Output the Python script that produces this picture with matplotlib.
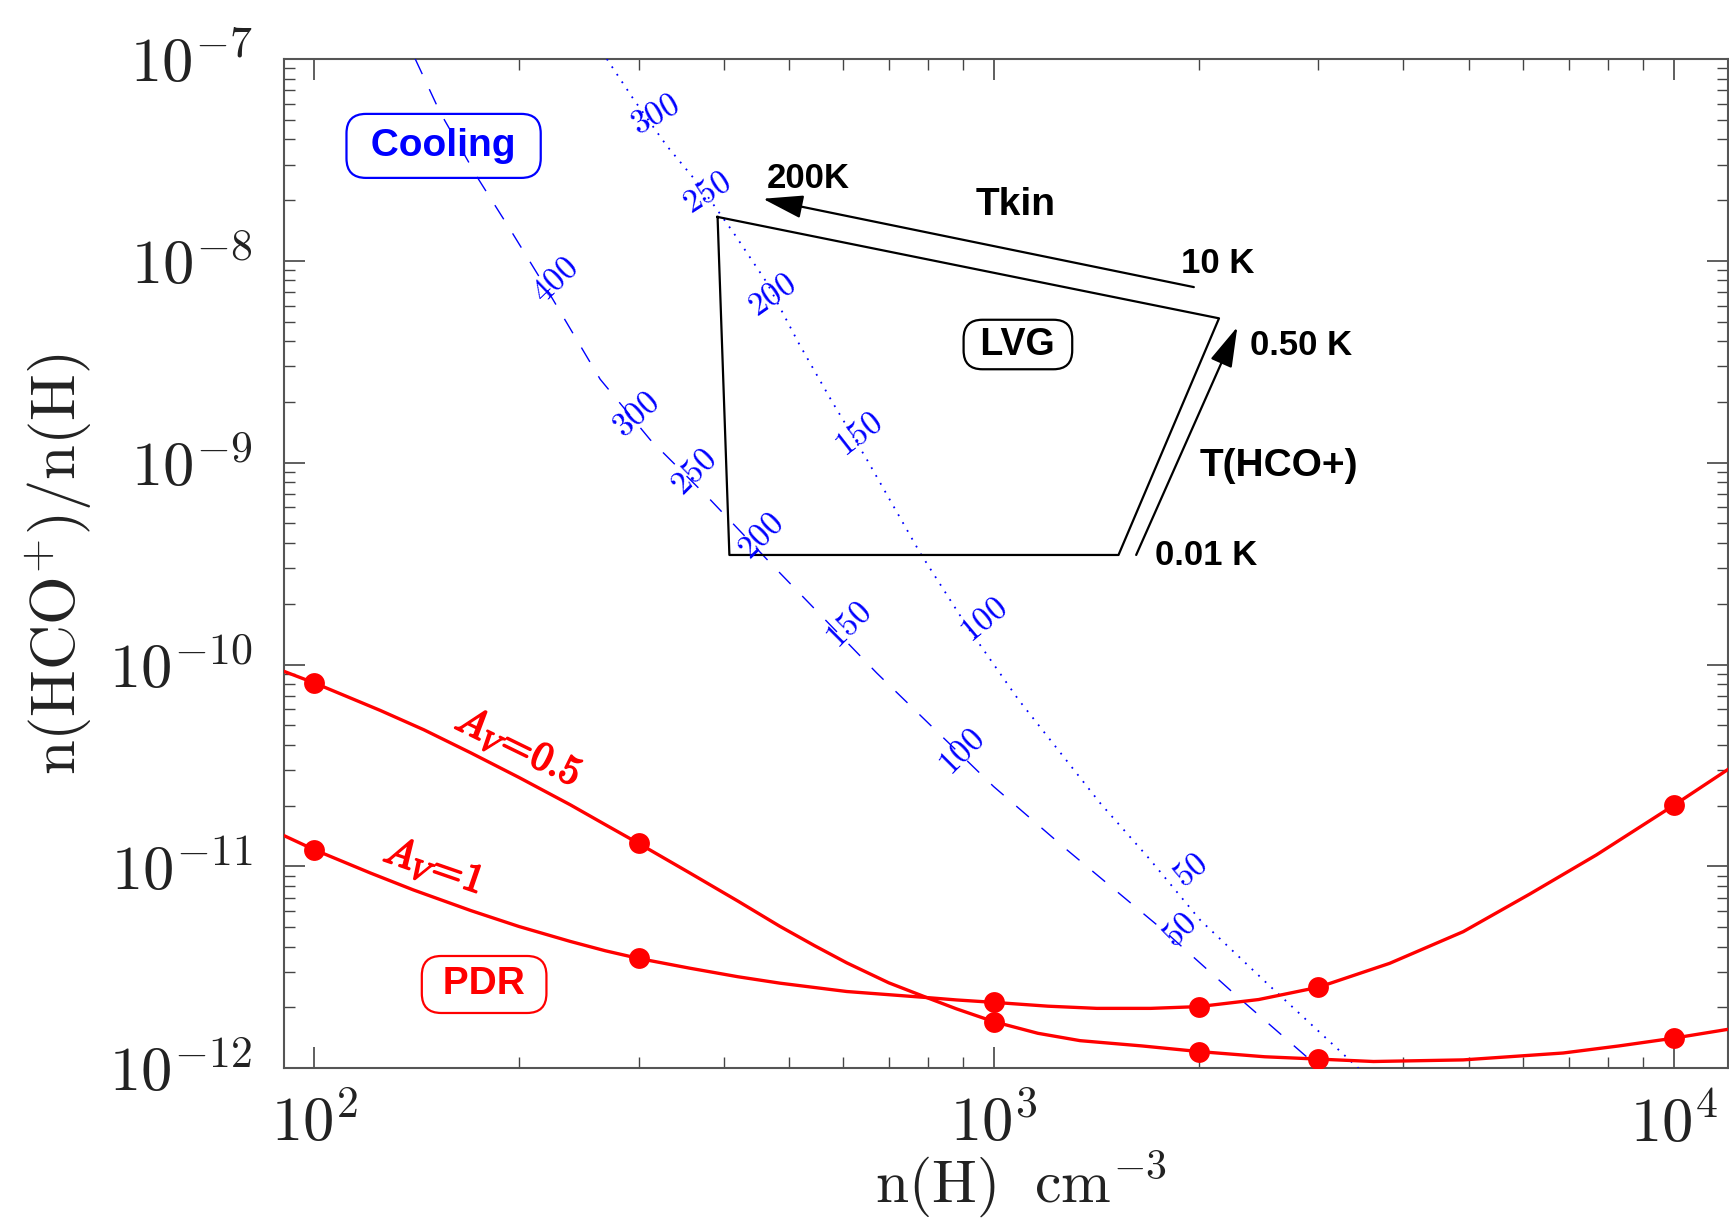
import numpy as np
import matplotlib
matplotlib.use("Agg")
import matplotlib.pyplot as plt
import matplotlib.patheffects as pe
from matplotlib.ticker import LogLocator, FixedLocator, FuncFormatter, NullFormatter

# ==================================================
# DATA
# ==================================================

# PDR model points, n(H) in cm^-3
nh_dots = [100, 300, 1000, 2000, 3000, 10000]
av05_dots = [8.1e-11, 1.3e-11, 1.7e-12, 1.21e-12, 1.11e-12, 1.41e-12]
av1_dots = [1.21e-11, 3.5e-12, 2.12e-12, 2.02e-12, 2.52e-12, 2.01e-11]

# smooth PDR curves, sampled along the drawn line
av05_curve_nh = [90.3, 100, 125, 145, 170, 200, 238, 268, 300, 357, 420,
                 484, 545, 607, 700, 796, 880, 1000, 1160, 1338, 1650,
                 2000, 2500, 3000, 3614, 4898, 6871, 8300, 10000, 12020]
av05_curve = [9.25e-11, 8.11e-11, 5.93e-11, 4.75e-11, 3.65e-11, 2.76e-11,
              2.02e-11, 1.61e-11, 1.3e-11, 9.27e-12, 6.73e-12, 5.05e-12,
              4.04e-12, 3.33e-12, 2.65e-12, 2.24e-12, 1.97e-12, 1.7e-12,
              1.49e-12, 1.37e-12, 1.29e-12, 1.21e-12, 1.14e-12, 1.11e-12,
              1.08e-12, 1.10e-12, 1.19e-12, 1.29e-12, 1.41e-12, 1.56e-12]

av1_curve_nh = [90.3, 100, 121, 140, 170, 200, 238, 268, 300, 357, 420,
                484, 607, 796, 880, 1000, 1200, 1416, 1700, 2000, 2450,
                3000, 3818, 4898, 6138, 7690, 10000, 12020]
av1_curve = [1.42e-11, 1.21e-11, 9.27e-12, 7.64e-12, 6.04e-12, 5.04e-12,
             4.25e-12, 3.82e-12, 3.5e-12, 3.13e-12, 2.84e-12, 2.64e-12,
             2.40e-12, 2.24e-12, 2.18e-12, 2.12e-12, 2.03e-12, 1.98e-12,
             1.98e-12, 2.02e-12, 2.19e-12, 2.52e-12, 3.31e-12, 4.75e-12,
             7.3e-12, 1.14e-11, 2.01e-11, 3.03e-11]

# cooling curves (blue), dashed and dotted
dash_nh = [140.8, 153.2, 174.4, 194.2, 219.9, 263.4, 312, 382.2, 479,
           672, 998, 1279, 1795, 2249, 3013]
dash_y = [1e-7, 5.43e-8, 2.54e-8, 1.43e-8, 7.23e-9, 2.59e-9, 1.30e-9,
          6.57e-10, 2.95e-10, 9.08e-11, 2.49e-11, 1.21e-11, 4.67e-12,
          2.36e-12, 1e-12]

dot_nh = [269.4, 294.9, 330.1, 369.5, 413.6, 463.2, 515.5, 577, 649.6,
          778.5, 911.9, 1086, 1432, 1696, 2009, 2518, 3435]
dot_y = [1e-7, 6.32e-8, 3.71e-8, 2.35e-8, 1.38e-8, 7.80e-9, 3.93e-9,
         2.02e-9, 1.04e-9, 3.57e-10, 1.55e-10, 6.70e-11, 2.06e-11,
         1.08e-11, 5.43e-12, 2.64e-12, 1e-12]

# temperature labels along the blue curves
dash_labels = ["400", "300", "250", "200", "150", "100", "50"]
dash_lab_nh = [226.1, 297.6, 361.3, 452.8, 610.6, 896.4, 1877]
dash_lab_y = [8.09e-9, 1.73e-9, 9.08e-10, 4.33e-10, 1.58e-10, 3.71e-11, 4.85e-12]
dash_lab_rot = [44, 42, 45, 45, 45, 45, 45]

dot_labels = ["300", "250", "200", "150", "100", "50"]
dot_lab_nh = [317.3, 378.0, 471.1, 631.6, 964.5, 1942]
dot_lab_y = [5.33e-8, 2.18e-8, 6.83e-9, 1.38e-9, 1.67e-10, 9.62e-12]
dot_lab_rot = [30, 33, 35, 38, 40, 40]

# LVG region
lvg_nh = [392, 408, 1524, 2142, 392]
lvg_y = [1.65e-8, 3.49e-10, 3.49e-10, 5.19e-9, 1.65e-8]

# arrows: (tail, head)
tkin_arrow = [(1967, 7.41e-9), (457, 2.03e-8)]
thco_arrow = [(1618, 3.49e-10), (2279, 4.70e-9)]

x_ticks = [1e2, 1e3, 1e4]
y_ticks = [1e-12, 1e-11, 1e-10, 1e-9, 1e-8, 1e-7]

# ==================================================
# STYLE
# ==================================================

plt.rcParams["mathtext.fontset"] = "cm"
plt.rcParams["font.family"] = ["DejaVu Sans"]

RED = "#ff0000"
BLUE = "#0000ff"
TXT = "#222222"
BOLD = dict(family=["Liberation Sans"], weight="bold")

fig = plt.figure(figsize=(17.29, 12.21), dpi=100)
ax = fig.add_axes([0.1643, 0.1251, 0.8353, 0.8266])

ax.set_xscale("log")
ax.set_yscale("log")
ax.set_xlim(90.3, 12020)
ax.set_ylim(1e-12, 1e-7)

# ==================================================
# CURVES
# ==================================================

ax.plot(av05_curve_nh, av05_curve, color=RED, lw=2.4, zorder=4)
ax.plot(av1_curve_nh, av1_curve, color=RED, lw=2.4, zorder=4)
ax.plot(nh_dots, av05_dots, "o", color=RED, ms=15, mec="none", zorder=5)
ax.plot(nh_dots, av1_dots, "o", color=RED, ms=15, mec="none", zorder=5)

ax.plot(dash_nh, dash_y, color=BLUE, lw=1.0, dashes=(12, 12), zorder=3)
ax.plot(dot_nh, dot_y, color=BLUE, lw=1.3, dashes=(1.0, 4.0), zorder=3)

for t, x, y, r in zip(dash_labels, dash_lab_nh, dash_lab_y, dash_lab_rot):
    ax.text(x, y, "$%s$" % t, color=BLUE, fontsize=24, rotation=r,
            ha="center", va="center", rotation_mode="anchor", zorder=6)

for t, x, y, r in zip(dot_labels, dot_lab_nh, dot_lab_y, dot_lab_rot):
    ax.text(x, y, "$%s$" % t, color=BLUE, fontsize=24, rotation=r,
            ha="center", va="center", rotation_mode="anchor", zorder=6)

# ==================================================
# LVG BOX AND ARROWS
# ==================================================

ax.plot(lvg_nh, lvg_y, color="black", lw=1.6, zorder=4)

for tail, head in [tkin_arrow, thco_arrow]:
    ax.annotate("", xy=head, xytext=tail,
                arrowprops=dict(arrowstyle="-|>,head_length=1.25,head_width=0.36",
                                mutation_scale=20, color="black", lw=1.6,
                                shrinkA=0, shrinkB=0))

ax.text(533, 2.55e-8, "200K", fontsize=25, ha="center", va="center", **BOLD)
ax.text(1076, 1.90e-8, "Tkin", fontsize=28, ha="center", va="center", **BOLD)
ax.text(2131, 9.65e-9, "10 K", fontsize=25, ha="center", va="center", **BOLD)
ax.text(2829, 3.80e-9, "0.50 K", fontsize=25, ha="center", va="center", **BOLD)
ax.text(2624, 9.64e-10, "T(HCO+)", fontsize=28, ha="center", va="center", **BOLD)
ax.text(2050, 3.48e-10, "0.01 K", fontsize=25, ha="center", va="center", **BOLD)

ax.text(1084, 3.85e-9, " LVG ", fontsize=27, ha="center", va="center",
        bbox=dict(boxstyle="round,pad=0.18,rounding_size=0.5", fc="white",
                  ec="black", lw=1.6), zorder=7, **BOLD)

ax.text(155, 3.71e-8, " Cooling ", fontsize=28, color=BLUE, ha="center",
        va="center", zorder=7,
        bbox=dict(boxstyle="round,pad=0.36,rounding_size=0.5", fc="none",
                  ec=BLUE, lw=1.6), **BOLD)

ax.text(177.8, 2.60e-12, " PDR ", fontsize=28, color=RED, ha="center",
        va="center", zorder=7,
        bbox=dict(boxstyle="round,pad=0.27,rounding_size=0.5", fc="white",
                  ec=RED, lw=1.6), **BOLD)

thick = [pe.withStroke(linewidth=1.3, foreground=RED)]
ax.text(199.7, 3.9e-11, r"$\mathit{A_V\!=\!0.5}$", fontsize=29, color=RED,
        rotation=-26, ha="center", va="center", rotation_mode="anchor",
        path_effects=thick)
ax.text(149.8, 1.0e-11, r"$\mathit{A_V\!=\!1}$", fontsize=29, color=RED,
        rotation=-19, ha="center", va="center", rotation_mode="anchor",
        path_effects=thick)

# ==================================================
# AXES
# ==================================================

ax.xaxis.set_major_locator(FixedLocator(x_ticks))
ax.yaxis.set_major_locator(FixedLocator(y_ticks))
ax.xaxis.set_minor_locator(LogLocator(base=10, subs=np.arange(2, 10), numticks=20))
ax.yaxis.set_minor_locator(LogLocator(base=10, subs=np.arange(2, 10), numticks=20))
ax.xaxis.set_minor_formatter(NullFormatter())
ax.yaxis.set_minor_formatter(NullFormatter())

fmt = FuncFormatter(lambda v, pos: r"$10^{%d}$" % int(round(np.log10(v))))
ax.xaxis.set_major_formatter(fmt)
ax.yaxis.set_major_formatter(fmt)

ax.tick_params(which="both", direction="in", top=True, right=True,
               colors="#444444", labelcolor=TXT, labelsize=45)
ax.tick_params(which="major", length=15, width=1.2)
ax.tick_params(which="minor", length=8, width=1.0)
ax.tick_params(axis="x", which="major", pad=19)
ax.tick_params(axis="y", which="major", pad=23)

for sp in ax.spines.values():
    sp.set_color("#555555")
    sp.set_linewidth(1.5)

ax.set_xlabel(r"$\mathrm{n(H)\ \ cm^{-3}}$", fontsize=43, color=TXT)
ax.set_ylabel(r"$\mathrm{n(HCO^{+})/n(H)}$", fontsize=45, color=TXT)
ax.xaxis.set_label_coords(0.51, -0.080)
ax.yaxis.set_label_coords(-0.131, 0.5)

fig.savefig("out.png", dpi=100)
